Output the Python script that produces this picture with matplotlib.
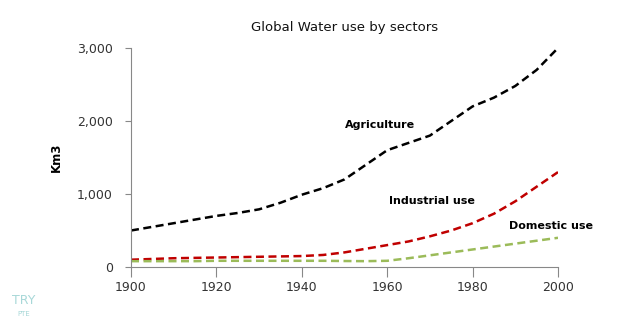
import matplotlib
matplotlib.use('Agg')
from matplotlib import pyplot as plt

years = [1900, 1905, 1910, 1915, 1920, 1925, 1930, 1935, 1940, 1945, 1950,
         1955, 1960, 1965, 1970, 1975, 1980, 1985, 1990, 1995, 2000]
agriculture = [500, 550, 600, 650, 700, 740, 790, 880, 990, 1080, 1200,
               1400, 1600, 1700, 1800, 2000, 2200, 2320, 2480, 2700, 3000]
industrial = [100, 110, 120, 125, 130, 135, 140, 145, 150, 165, 200,
              250, 300, 350, 420, 500, 600, 730, 900, 1100, 1300]
domestic = [80, 80, 80, 80, 85, 85, 85, 85, 85, 85, 82,
            80, 85, 120, 160, 200, 240, 280, 320, 360, 400]

xticks = [1900, 1920, 1940, 1960, 1980, 2000]
yticks = [0, 1000, 2000, 3000]
ytick_labels = ['0', '1,000', '2,000', '3,000']

fig = plt.figure(figsize=(6.43, 3.23), dpi=100)
ax = fig.add_axes([131 / 643, 1 - 267 / 323, 427 / 643, 219 / 323])

ax.plot(years, agriculture, color='black', linestyle='--', linewidth=1.8, dashes=(3.2, 1.8))
ax.plot(years, industrial, color='#c00000', linestyle='--', linewidth=1.8, dashes=(3.2, 1.8))
ax.plot(years, domestic, color='#9bbb59', linestyle='--', linewidth=1.8, dashes=(3.2, 1.8))

ax.set_xlim(1900, 2000)
ax.set_ylim(0, 3000)
ax.set_xticks(xticks)
ax.set_yticks(yticks)
ax.set_yticklabels(ytick_labels)
ax.tick_params(axis='both', labelsize=9, colors='#333333', width=0.8, direction='out')
ax.tick_params(axis='x', length=7, pad=3, color='#888888')
ax.tick_params(axis='y', length=4, pad=9, color='#888888')
for side in ['top', 'right']:
    ax.spines[side].set_visible(False)
for side in ['left', 'bottom']:
    ax.spines[side].set_color('#888888')
    ax.spines[side].set_linewidth(0.8)

ax.set_ylabel('Km3', fontsize=8.5, fontweight='bold', labelpad=10)

# line labels
ax.text(1950, 1940, 'Agriculture', fontsize=8, fontweight='bold', ha='left', va='center')
ax.text(1960.5, 910, 'Industrial use', fontsize=8, fontweight='bold', ha='left', va='center')
ax.text(1988.5, 560, 'Domestic use', fontsize=8, fontweight='bold', ha='left', va='center')

fig.text(345 / 643, 1 - 28 / 323, 'Global Water use by sectors', fontsize=9.5,
         ha='center', va='center', color='#111111')

# watermark
fig.text(24 / 643, 1 - 301 / 323, 'TRY', fontsize=9, color='#a8d8d8', ha='center', va='center')
fig.text(24 / 643, 1 - 314 / 323, 'PTE', fontsize=5, color='#a8d8d8', ha='center', va='center')

fig.savefig('out.png', dpi=100, facecolor='white')
